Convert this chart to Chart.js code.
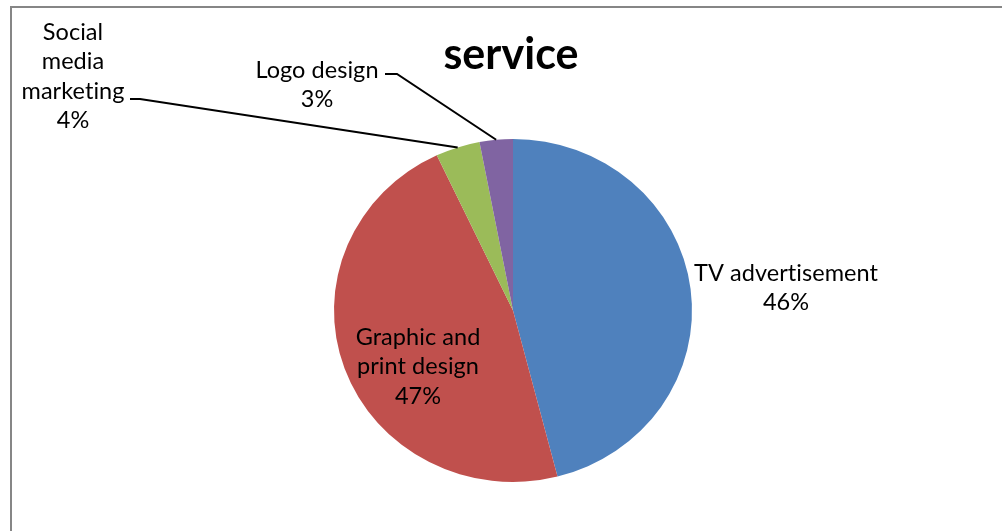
<!DOCTYPE html>
<html>
<head>
<meta charset="utf-8">
<script src="https://cdn.jsdelivr.net/npm/chart.js@4/dist/chart.umd.min.js"></script>
<style>
html,body{margin:0;padding:0;background:#fff;}
#wrap{position:relative;width:1002px;height:531px;overflow:hidden;}
canvas{display:block;}
</style>
</head>
<body>
<div id="wrap"><canvas id="c" width="1002" height="531"></canvas></div>
<script>
const categories = ['TV advertisement', 'Graphic and print design', 'Social media marketing', 'Logo design'];
const shares = [46, 47, 4, 3];
const sliceColors = ['#4F81BD', '#C0504D', '#9BBB59', '#8064A2'];
const chartTitle = 'service';

// label presentation (line wrapping + placement)
const labelLayout = [
  { lines: ['TV advertisement'], x: 786, y: 273, leader: null },
  { lines: ['Graphic and', 'print design'], x: 418, y: 337, leader: null },
  { lines: ['Social', 'media', 'marketing'], x: 73, y: 32, leader: { x0: 130, y0: 99, x1: 140 } },
  { lines: ['Logo design'], x: 317, y: 70, leader: { x0: 385, y0: 74, x1: 397 } }
];
const FONT = '"Lato", "Open Sans", sans-serif';
const Y_SCALE = 171.5 / 179;

const total = shares.reduce((a, b) => a + b, 0);

const decor = {
  id: 'decor',
  beforeDraw(chart) {
    const ctx = chart.ctx;
    ctx.save();
    ctx.fillStyle = '#fff';
    ctx.fillRect(0, 0, chart.width, chart.height);
    ctx.fillStyle = '#868686';
    ctx.fillRect(10, 6, chart.width, 2);
    ctx.fillRect(10, 6, 2, chart.height);
    ctx.restore();
  },
  beforeDatasetsDraw(chart) {
    const arc = chart.getDatasetMeta(0).data[0];
    const ctx = chart.ctx;
    ctx.save();
    ctx.translate(0, arc.y);
    ctx.scale(1, Y_SCALE);
    ctx.translate(0, -arc.y);
  },
  afterDatasetsDraw(chart) {
    chart.ctx.restore();
  },
  afterDraw(chart) {
    const ctx = chart.ctx;
    const arcs = chart.getDatasetMeta(0).data;
    ctx.save();
    if ('letterSpacing' in ctx) ctx.letterSpacing = '0.05px';
    // title
    ctx.fillStyle = '#000';
    ctx.textAlign = 'center';
    ctx.textBaseline = 'middle';
    ctx.font = 'bold 43px ' + FONT;
    ctx.fillText(chartTitle, 511, 55);
    // labels
    ctx.font = '23.5px ' + FONT;
    ctx.fillStyle = '#000';
    labelLayout.forEach((lay, i) => {
      const lines = lay.lines.concat([Math.round(shares[i] / total * 100) + '%']);
      lines.forEach((t, k) => ctx.fillText(t, lay.x, lay.y + k * 29.5));
      if (lay.leader) {
        const a = arcs[i];
        const mid = (a.startAngle + a.endAngle) / 2;
        const ex = a.x + a.outerRadius * Math.cos(mid);
        const ey = a.y + a.outerRadius * Math.sin(mid) * Y_SCALE;
        ctx.beginPath();
        ctx.strokeStyle = '#000';
        ctx.lineWidth = 2;
        ctx.moveTo(lay.leader.x0, lay.leader.y0);
        ctx.lineTo(lay.leader.x1, lay.leader.y0);
        ctx.lineTo(ex, ey);
        ctx.stroke();
      }
    });
    ctx.restore();
  }
};

new Chart(document.getElementById('c'), {
  type: 'pie',
  data: {
    labels: categories,
    datasets: [{
      data: shares,
      backgroundColor: sliceColors,
      borderWidth: 0,
      hoverOffset: 0
    }]
  },
  options: {
    responsive: false,
    animation: false,
    devicePixelRatio: 1,
    layout: { padding: { top: 131.5, bottom: 41.5, left: 334, right: 310 } },
    plugins: {
      legend: { display: false },
      title: { display: false },
      tooltip: { enabled: false }
    }
  },
  plugins: [decor]
});
</script>
</body>
</html>
